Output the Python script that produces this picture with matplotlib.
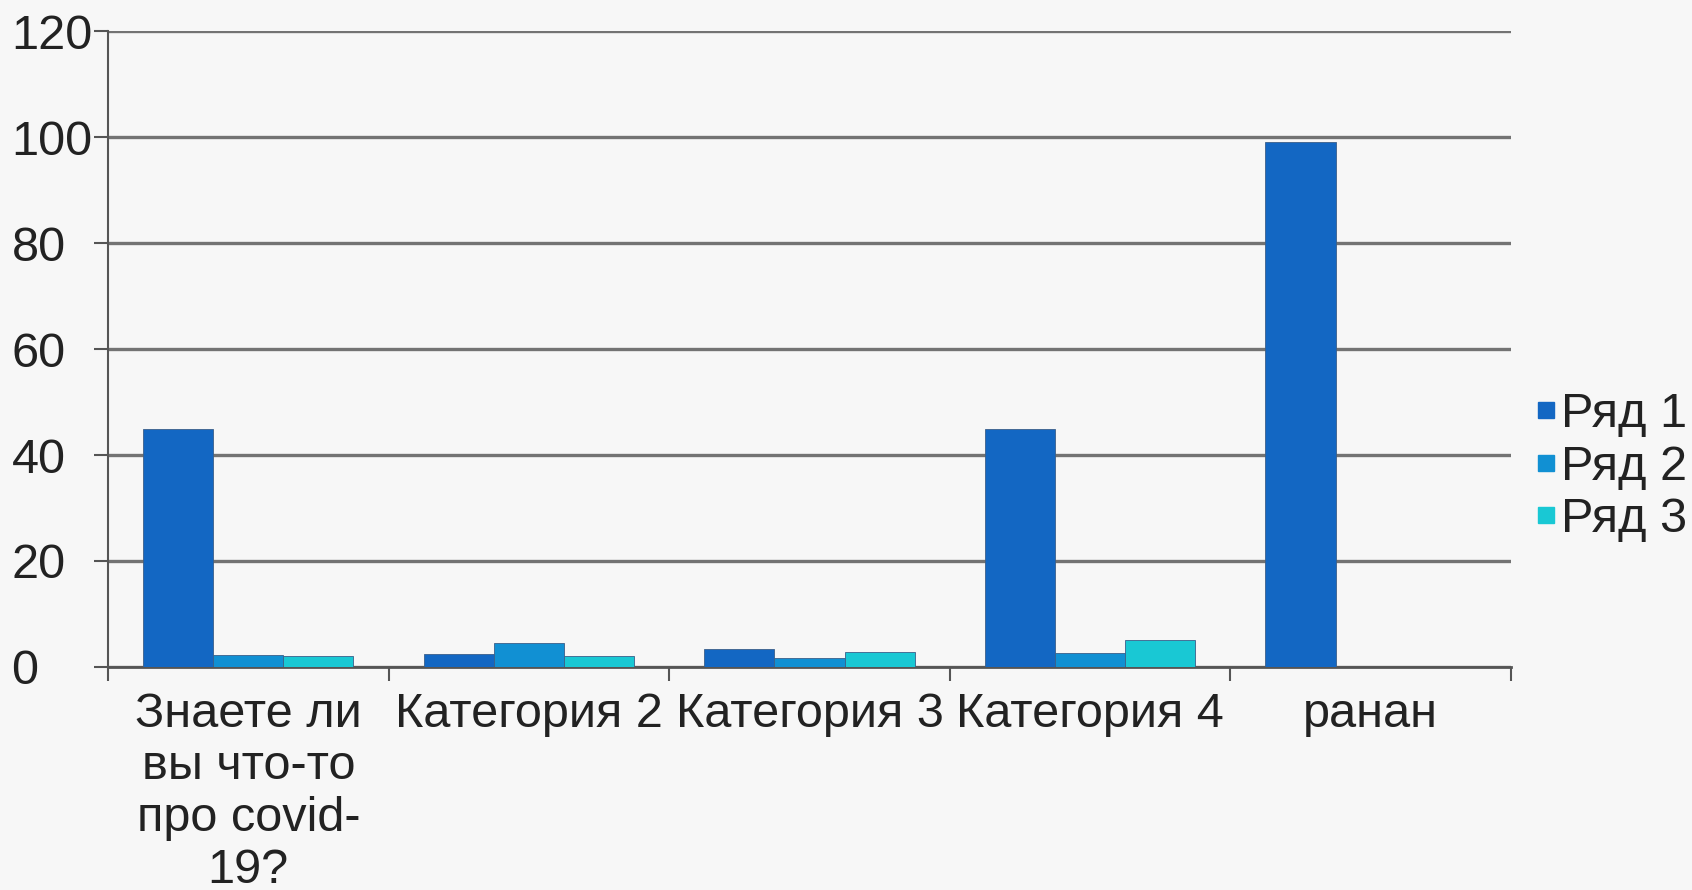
import matplotlib
matplotlib.use("Agg")
import matplotlib.pyplot as plt
from matplotlib.lines import Line2D
import numpy as np

plt.rcParams['font.family'] = ['Liberation Sans', 'DejaVu Sans']

categories = ["Знаете ли\nвы что-то\nпро covid-\n19?", "Категория 2", "Категория 3", "Категория 4", "ранан"]
series_names = ["Ряд 1", "Ряд 2", "Ряд 3"]
row1 = [45, 2.5, 3.3, 45, 99]
row2 = [2.3, 4.5, 1.7, 2.7, 0]
row3 = [2.0, 2.0, 2.9, 5.0, 0]
y_ticks = [0, 20, 40, 60, 80, 100, 120]
colors = ["#1367c3", "#1190d3", "#19c8d4"]

fig = plt.figure(figsize=(16.92, 8.9), dpi=100)
fig.patch.set_facecolor("#f7f7f7")
ax = fig.add_axes([0.0638, 0.2506, 0.893 - 0.0638, 0.965 - 0.2506])
ax.set_facecolor("none")

x = np.arange(len(categories))
w = 0.25
for i, (vals, col) in enumerate(zip([row1, row2, row3], colors)):
    ax.bar(x + (i - 1) * w, vals, width=w, color=col, edgecolor="#3a5f8a",
           linewidth=0.6, zorder=3)

ax.set_xlim(-0.5, len(categories) - 0.5)
ax.set_ylim(0, 120)
ax.set_yticks(y_ticks)
ax.set_yticklabels([str(t) for t in y_ticks], fontsize=35, color="#222222")
for lbl in ax.get_yticklabels():
    lbl.set_horizontalalignment("left")
ax.yaxis.grid(True, color="#737373", linewidth=2.4, zorder=1)
ax.set_axisbelow(True)

ax.set_xticks(x)
ax.set_xticklabels(categories, fontsize=35, color="#222222", linespacing=1.2)
ax.set_xticks(np.arange(len(categories) + 1) - 0.5, minor=True)
ax.tick_params(axis="x", which="major", length=0, pad=18)
ax.tick_params(axis="x", which="minor", length=10, width=1.5, color="#555555")
ax.tick_params(axis="y", length=10, width=1.5, color="#555555", pad=59.5)

for s in ["top", "right"]:
    ax.spines[s].set_visible(False)
ax.spines["left"].set_color("#555555")
ax.spines["left"].set_linewidth(1.5)
ax.spines["bottom"].set_color("#555555")
ax.spines["bottom"].set_linewidth(2)

handles = [Line2D([], [], linestyle="none", marker="s", markersize=11,
                  markerfacecolor=c, markeredgecolor=c) for c in colors]
fig.legend(handles, series_names, loc="center left", bbox_to_anchor=(0.908, 0.475),
           frameon=False, fontsize=35, handlelength=0.4, handletextpad=0.1,
           labelspacing=0.15, borderaxespad=0, borderpad=0, labelcolor="#222222")

fig.savefig("out.png", dpi=100, facecolor=fig.get_facecolor())
